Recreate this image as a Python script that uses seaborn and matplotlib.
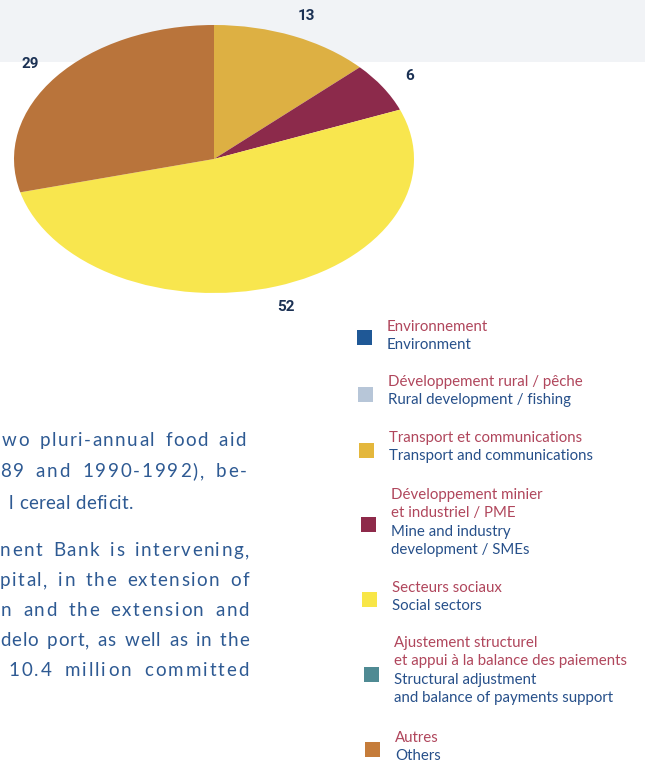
import matplotlib
matplotlib.use("Agg")
import matplotlib.pyplot as plt
from matplotlib.patches import Rectangle
import numpy as np
import seaborn as sns

# ---- pie data: share of commitments by sector (%) ----
pie_sectors = ["Transport et communications",
               "Développement minier et industriel / PME",
               "Secteurs sociaux",
               "Autres"]
pie_shares = [13, 6, 52, 29]
pie_colors = ["#DDB043", "#8C2A4B", "#F8E64E", "#B9743B"]

# ---- legend entries (French / English) ----
legend_fr = ["Environnement",
             "Développement rural / pêche",
             "Transport et communications",
             "Développement minier\net industriel / PME",
             "Secteurs sociaux",
             "Ajustement structurel\net appui à la balance des paiements",
             "Autres"]
legend_en = ["Environment",
             "Rural development / fishing",
             "Transport and communications",
             "Mine and industry\ndevelopment / SMEs",
             "Social sectors",
             "Structural adjustment\nand balance of payments support",
             "Others"]
legend_colors = ["#1F5896", "#B7C6D8", "#E4B73C", "#8E2A4A",
                 "#F8E647", "#4F8A93", "#C57C3A"]

# ---- running text of the page beside the chart ----
para1 = ["wo pluri-annual food aid",
         "89 and 1990-1992), be-",
         "l cereal deficit."]
para2 = ["nent Bank is intervening,",
         "pital, in the extension of",
         "n and the extension and",
         "delo port, as well as in the",
         "10.4 million committed"]

sns.set_theme(style="white")
plt.rcParams["font.family"] = ["Lato", "DejaVu Sans"]

W, H = 645, 764
fig = plt.figure(figsize=(W / 100, H / 100), dpi=100)
fig.patch.set_facecolor("white")

# overlay axes in pixel units (y downwards) for page text and legend
page = fig.add_axes([0, 0, 1, 1], zorder=0)
page.set_xlim(0, W)
page.set_ylim(H, 0)
page.axis("off")

# faint printed texture band at the top of the page
page.add_patch(Rectangle((0, 0), W, 62, color="#f1f3f6", lw=0, zorder=0))

# ---- pie (elliptical, as printed) ----
pie_ax = fig.add_axes([14 / W, 1 - 293 / H, 400 / W, 268 / H], zorder=2)
palette = sns.color_palette(pie_colors)
wedges, _ = pie_ax.pie(pie_shares, colors=palette, startangle=90,
                       counterclock=False, radius=1.0,
                       wedgeprops=dict(linewidth=0))
pie_ax.set_aspect("auto")
pie_ax.set_xlim(-1, 1)
pie_ax.set_ylim(-1, 1)
pie_ax.axis("off")
for w, v in zip(wedges, pie_shares):
    ang = np.deg2rad((w.theta1 + w.theta2) / 2)
    r = 1.16
    pie_ax.text(r * np.cos(ang), r * np.sin(ang), f"{v}",
                ha="center", va="center", fontsize=11, fontweight="bold",
                color="#1B3154", family=["Roboto", "DejaVu Sans"])

# ---- legend ----
entry_y = [337, 394, 450, 524, 599, 674, 749]     # square centres
fr_first = [327, 382, 438, 495, 588, 643, 738]   # first French line
line_h = 18.4
for i, (fr, en, col) in enumerate(zip(legend_fr, legend_en, legend_colors)):
    shift = (entry_y[i] - 337) * 0.02
    sx = 357 + shift
    page.add_patch(Rectangle((sx, entry_y[i] - 7.5), 15, 15,
                             color=col, lw=0, zorder=3))
    tx = 387 + shift
    y = fr_first[i]
    for ln in fr.split("\n"):
        page.text(tx, y, ln, fontsize=10.8, color="#B0465C",
                  ha="left", va="center")
        y += line_h
    for ln in en.split("\n"):
        page.text(tx, y, ln, fontsize=10.8, color="#27508A",
                  ha="left", va="center")
        y += line_h

# ---- running text, letter-spaced to fill the column ----
renderer = fig.canvas.get_renderer()
body_kw = dict(fontsize=13.5, color="#2E5A93", va="baseline", ha="left")


def width_of(s):
    t = page.text(0, 0, s, **body_kw)
    wd = t.get_window_extent(renderer).width
    t.remove()
    return wd


space_w = width_of("a a") - width_of("aa")


def set_line(text, y, x0, x1=None, tracking=0.3):
    widths = [space_w if c == " " else width_of(c) for c in text]
    n = len(text)
    n_sp = text.count(" ")
    if x1 is not None:
        # spread the slack over letter gaps, word spaces take a larger share
        slack = x1 - x0 - sum(widths)
        weight = (n - 1 - n_sp) + 3 * n_sp
        unit = slack / weight
    x = x0
    for i, (c, wd) in enumerate(zip(text, widths)):
        if c != " ":
            page.text(x, y, c, **body_kw)
        if x1 is None:
            x += wd + tracking
        else:
            x += wd + unit * (3 if c == " " else 1)


base = 5
set_line(para1[0], 441 + base, 2, 246)
set_line(para1[1], 472 + base, 0, 247)
set_line(para1[2], 504 + base, 9)
para2_y = [551, 581, 611, 641, 671]
para2_x0 = [0, 0, 1, 0, 8]
for ln, y, x0 in zip(para2, para2_y, para2_x0):
    set_line(ln, y + base, x0, 249)

fig.savefig("out.png", dpi=100, facecolor="white")
